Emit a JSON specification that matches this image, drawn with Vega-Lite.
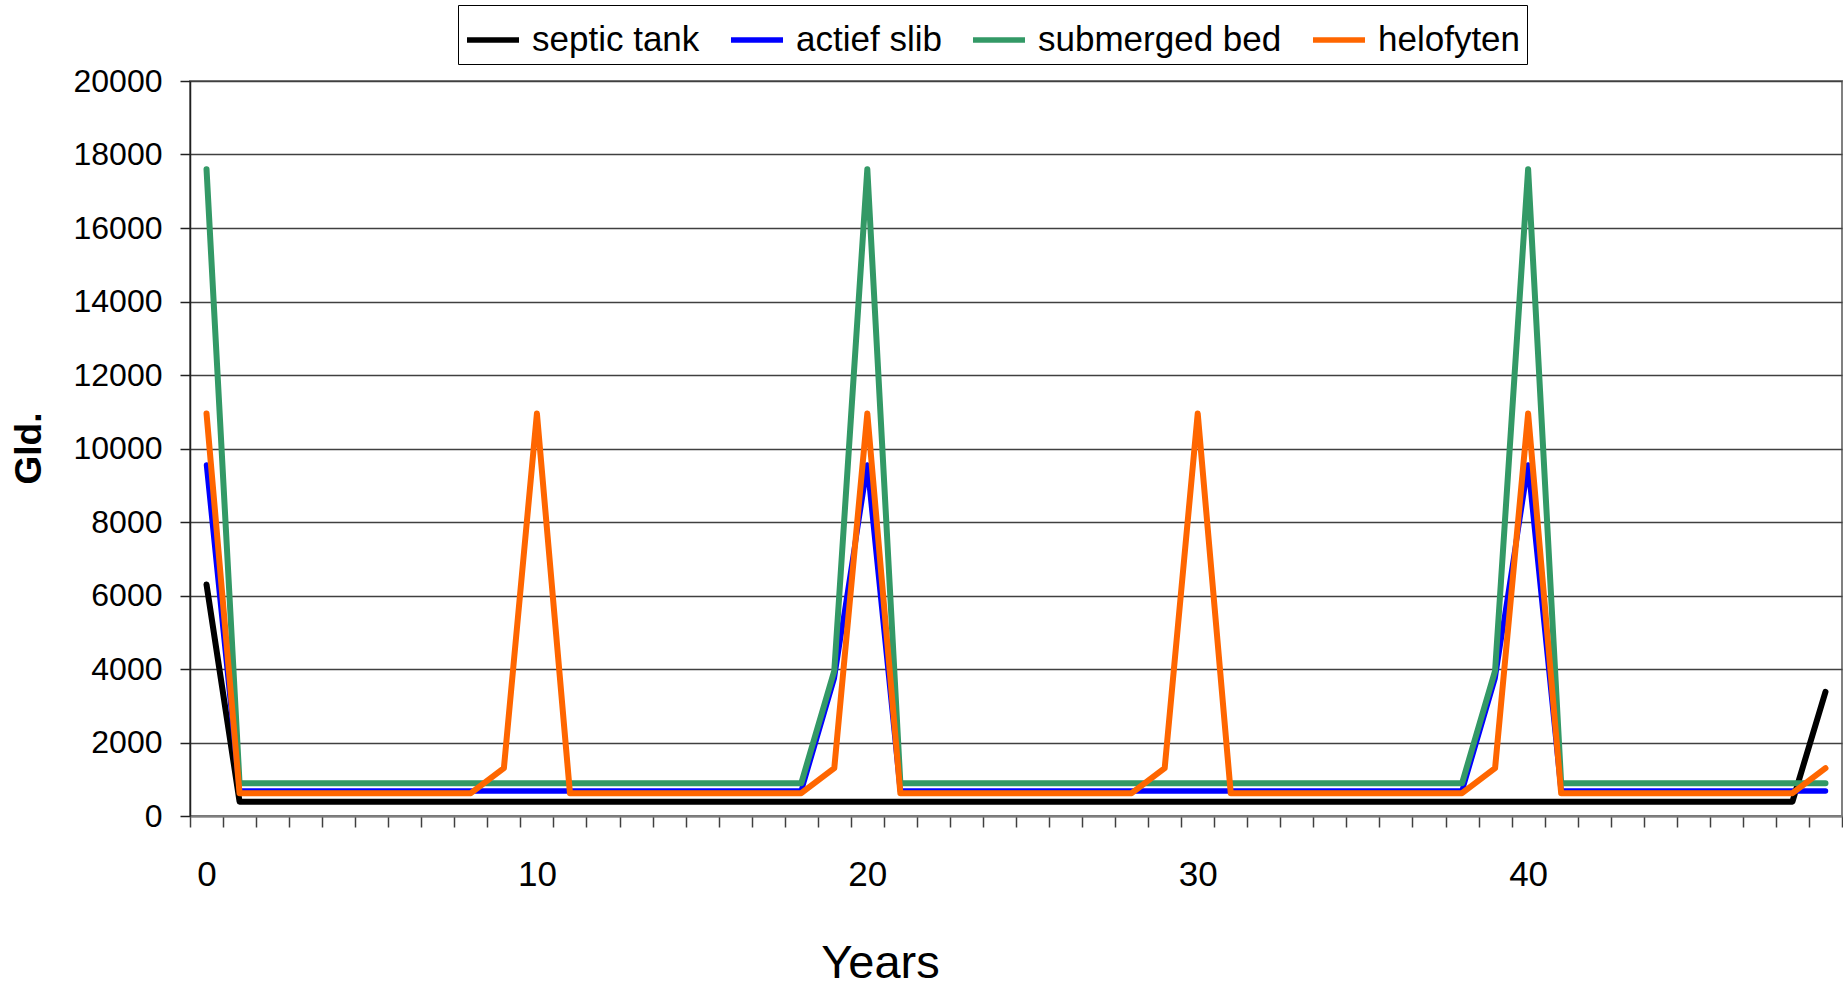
{
  "$schema": "https://vega.github.io/schema/vega-lite/v6.json",
  "autosize": {"type": "none"},
  "padding": {"left": 190, "top": 81, "right": 1, "bottom": 170},
  "width": 1652,
  "height": 735,
  "background": "white",
  "config": {
    "font": "Liberation Sans",
    "view": {"stroke": "#808080", "strokeWidth": 2}
  },
  "data": {
    "values": [
      {"year": 0, "septic tank": 6300, "actief slib": 9550, "submerged bed": 17600, "helofyten": 10950},
      {"year": 1, "septic tank": 390, "actief slib": 680, "submerged bed": 890, "helofyten": 620},
      {"year": 2, "septic tank": 390, "actief slib": 680, "submerged bed": 890, "helofyten": 620},
      {"year": 3, "septic tank": 390, "actief slib": 680, "submerged bed": 890, "helofyten": 620},
      {"year": 4, "septic tank": 390, "actief slib": 680, "submerged bed": 890, "helofyten": 620},
      {"year": 5, "septic tank": 390, "actief slib": 680, "submerged bed": 890, "helofyten": 620},
      {"year": 6, "septic tank": 390, "actief slib": 680, "submerged bed": 890, "helofyten": 620},
      {"year": 7, "septic tank": 390, "actief slib": 680, "submerged bed": 890, "helofyten": 620},
      {"year": 8, "septic tank": 390, "actief slib": 680, "submerged bed": 890, "helofyten": 620},
      {"year": 9, "septic tank": 390, "actief slib": 680, "submerged bed": 890, "helofyten": 1300},
      {"year": 10, "septic tank": 390, "actief slib": 680, "submerged bed": 890, "helofyten": 10950},
      {"year": 11, "septic tank": 390, "actief slib": 680, "submerged bed": 890, "helofyten": 620},
      {"year": 12, "septic tank": 390, "actief slib": 680, "submerged bed": 890, "helofyten": 620},
      {"year": 13, "septic tank": 390, "actief slib": 680, "submerged bed": 890, "helofyten": 620},
      {"year": 14, "septic tank": 390, "actief slib": 680, "submerged bed": 890, "helofyten": 620},
      {"year": 15, "septic tank": 390, "actief slib": 680, "submerged bed": 890, "helofyten": 620},
      {"year": 16, "septic tank": 390, "actief slib": 680, "submerged bed": 890, "helofyten": 620},
      {"year": 17, "septic tank": 390, "actief slib": 680, "submerged bed": 890, "helofyten": 620},
      {"year": 18, "septic tank": 390, "actief slib": 680, "submerged bed": 890, "helofyten": 620},
      {"year": 19, "septic tank": 390, "actief slib": 3750, "submerged bed": 3950, "helofyten": 1300},
      {"year": 20, "septic tank": 390, "actief slib": 9550, "submerged bed": 17600, "helofyten": 10950},
      {"year": 21, "septic tank": 390, "actief slib": 680, "submerged bed": 890, "helofyten": 620},
      {"year": 22, "septic tank": 390, "actief slib": 680, "submerged bed": 890, "helofyten": 620},
      {"year": 23, "septic tank": 390, "actief slib": 680, "submerged bed": 890, "helofyten": 620},
      {"year": 24, "septic tank": 390, "actief slib": 680, "submerged bed": 890, "helofyten": 620},
      {"year": 25, "septic tank": 390, "actief slib": 680, "submerged bed": 890, "helofyten": 620},
      {"year": 26, "septic tank": 390, "actief slib": 680, "submerged bed": 890, "helofyten": 620},
      {"year": 27, "septic tank": 390, "actief slib": 680, "submerged bed": 890, "helofyten": 620},
      {"year": 28, "septic tank": 390, "actief slib": 680, "submerged bed": 890, "helofyten": 620},
      {"year": 29, "septic tank": 390, "actief slib": 680, "submerged bed": 890, "helofyten": 1300},
      {"year": 30, "septic tank": 390, "actief slib": 680, "submerged bed": 890, "helofyten": 10950},
      {"year": 31, "septic tank": 390, "actief slib": 680, "submerged bed": 890, "helofyten": 620},
      {"year": 32, "septic tank": 390, "actief slib": 680, "submerged bed": 890, "helofyten": 620},
      {"year": 33, "septic tank": 390, "actief slib": 680, "submerged bed": 890, "helofyten": 620},
      {"year": 34, "septic tank": 390, "actief slib": 680, "submerged bed": 890, "helofyten": 620},
      {"year": 35, "septic tank": 390, "actief slib": 680, "submerged bed": 890, "helofyten": 620},
      {"year": 36, "septic tank": 390, "actief slib": 680, "submerged bed": 890, "helofyten": 620},
      {"year": 37, "septic tank": 390, "actief slib": 680, "submerged bed": 890, "helofyten": 620},
      {"year": 38, "septic tank": 390, "actief slib": 680, "submerged bed": 890, "helofyten": 620},
      {"year": 39, "septic tank": 390, "actief slib": 3750, "submerged bed": 3950, "helofyten": 1300},
      {"year": 40, "septic tank": 390, "actief slib": 9550, "submerged bed": 17600, "helofyten": 10950},
      {"year": 41, "septic tank": 390, "actief slib": 680, "submerged bed": 890, "helofyten": 620},
      {"year": 42, "septic tank": 390, "actief slib": 680, "submerged bed": 890, "helofyten": 620},
      {"year": 43, "septic tank": 390, "actief slib": 680, "submerged bed": 890, "helofyten": 620},
      {"year": 44, "septic tank": 390, "actief slib": 680, "submerged bed": 890, "helofyten": 620},
      {"year": 45, "septic tank": 390, "actief slib": 680, "submerged bed": 890, "helofyten": 620},
      {"year": 46, "septic tank": 390, "actief slib": 680, "submerged bed": 890, "helofyten": 620},
      {"year": 47, "septic tank": 390, "actief slib": 680, "submerged bed": 890, "helofyten": 620},
      {"year": 48, "septic tank": 390, "actief slib": 680, "submerged bed": 890, "helofyten": 620},
      {"year": 49, "septic tank": 3380, "actief slib": 680, "submerged bed": 890, "helofyten": 1300}
    ]
  },
  "transform": [
    {"fold": ["septic tank", "actief slib", "submerged bed", "helofyten"], "as": ["series", "value"]}
  ],
  "encoding": {
    "x": {
      "field": "year",
      "type": "quantitative",
      "scale": {"domain": [-0.5, 49.5], "nice": false, "zero": false},
      "axis": {
        "title": "Years",
        "titleFontSize": 47,
        "titleFontWeight": "normal",
        "titleColor": "black",
        "titleX": 690,
        "titleY": 161,
        "titleAlign": "center",
        "titleAnchor": null,
        "titleBaseline": "alphabetic",
        "values": [-0.5, 0.5, 1.5, 2.5, 3.5, 4.5, 5.5, 6.5, 7.5, 8.5, 9.5, 10.5, 11.5, 12.5, 13.5, 14.5, 15.5, 16.5, 17.5, 18.5, 19.5, 20.5, 21.5, 22.5, 23.5, 24.5, 25.5, 26.5, 27.5, 28.5, 29.5, 30.5, 31.5, 32.5, 33.5, 34.5, 35.5, 36.5, 37.5, 38.5, 39.5, 40.5, 41.5, 42.5, 43.5, 44.5, 45.5, 46.5, 47.5, 48.5, 49.5],
        "labelExpr": "((datum.value + 0.5) % 10 == 0 && datum.value < 49) ? format(datum.value + 0.5, 'd') : ''",
        "labelOffset": 16.52,
        "labelFlush": false,
        "labelOverlap": false,
        "labelBound": false,
        "labelFontSize": 35,
        "labelColor": "black",
        "labelBaseline": "alphabetic",
        "labelPadding": 58,
        "tickSize": 11,
        "tickColor": "#404040",
        "tickWidth": 1.5,
        "domainColor": "#808080",
        "domainWidth": 2,
        "grid": false
      }
    },
    "y": {
      "field": "value",
      "type": "quantitative",
      "scale": {"domain": [0, 20000], "nice": false},
      "axis": {
        "title": "Gld.",
        "titleFontSize": 37,
        "titleFontWeight": "bold",
        "titleColor": "black",
        "titleAngle": 270,
        "titleX": -161,
        "titleY": 367,
        "titleAlign": "center",
        "titleAnchor": null,
        "titleBaseline": "middle",
        "values": [0, 2000, 4000, 6000, 8000, 10000, 12000, 14000, 16000, 18000, 20000],
        "format": "d",
        "labelFontSize": 32,
        "labelColor": "black",
        "labelPadding": 18,
        "tickSize": 10,
        "tickColor": "#202020",
        "tickWidth": 1.5,
        "domainColor": "#202020",
        "domainWidth": 1.5,
        "grid": true,
        "gridColor": "#404040",
        "gridWidth": 1.3
      }
    },
    "color": {
      "field": "series",
      "type": "nominal",
      "scale": {
        "domain": ["septic tank", "actief slib", "submerged bed", "helofyten"],
        "range": ["#000000", "#0000FF", "#339966", "#FF6600"]
      },
      "legend": {
        "title": null,
        "orient": "none",
        "legendX": 268,
        "legendY": -76,
        "direction": "horizontal",
        "symbolType": "stroke",
        "symbolSize": 2704,
        "symbolStrokeWidth": 5.5,
        "labelFontSize": 35,
        "labelColor": "black",
        "labelOffset": 10,
        "labelLimit": 500,
        "columnPadding": 20,
        "strokeColor": "black",
        "fillColor": "white",
        "padding": 6
      }
    }
  },
  "layer": [
    {
      "transform": [{"filter": "datum.series == 'septic tank'"}],
      "mark": {"type": "line", "strokeWidth": 6, "strokeCap": "round", "strokeJoin": "round"}
    },
    {
      "transform": [{"filter": "datum.series == 'actief slib'"}],
      "mark": {"type": "line", "strokeWidth": 5.5, "strokeCap": "round", "strokeJoin": "round"}
    },
    {
      "transform": [{"filter": "datum.series == 'submerged bed'"}],
      "mark": {"type": "line", "strokeWidth": 6, "strokeCap": "round", "strokeJoin": "round"}
    },
    {
      "transform": [{"filter": "datum.series == 'helofyten'"}],
      "mark": {"type": "line", "strokeWidth": 6, "strokeCap": "round", "strokeJoin": "round"}
    }
  ]
}
